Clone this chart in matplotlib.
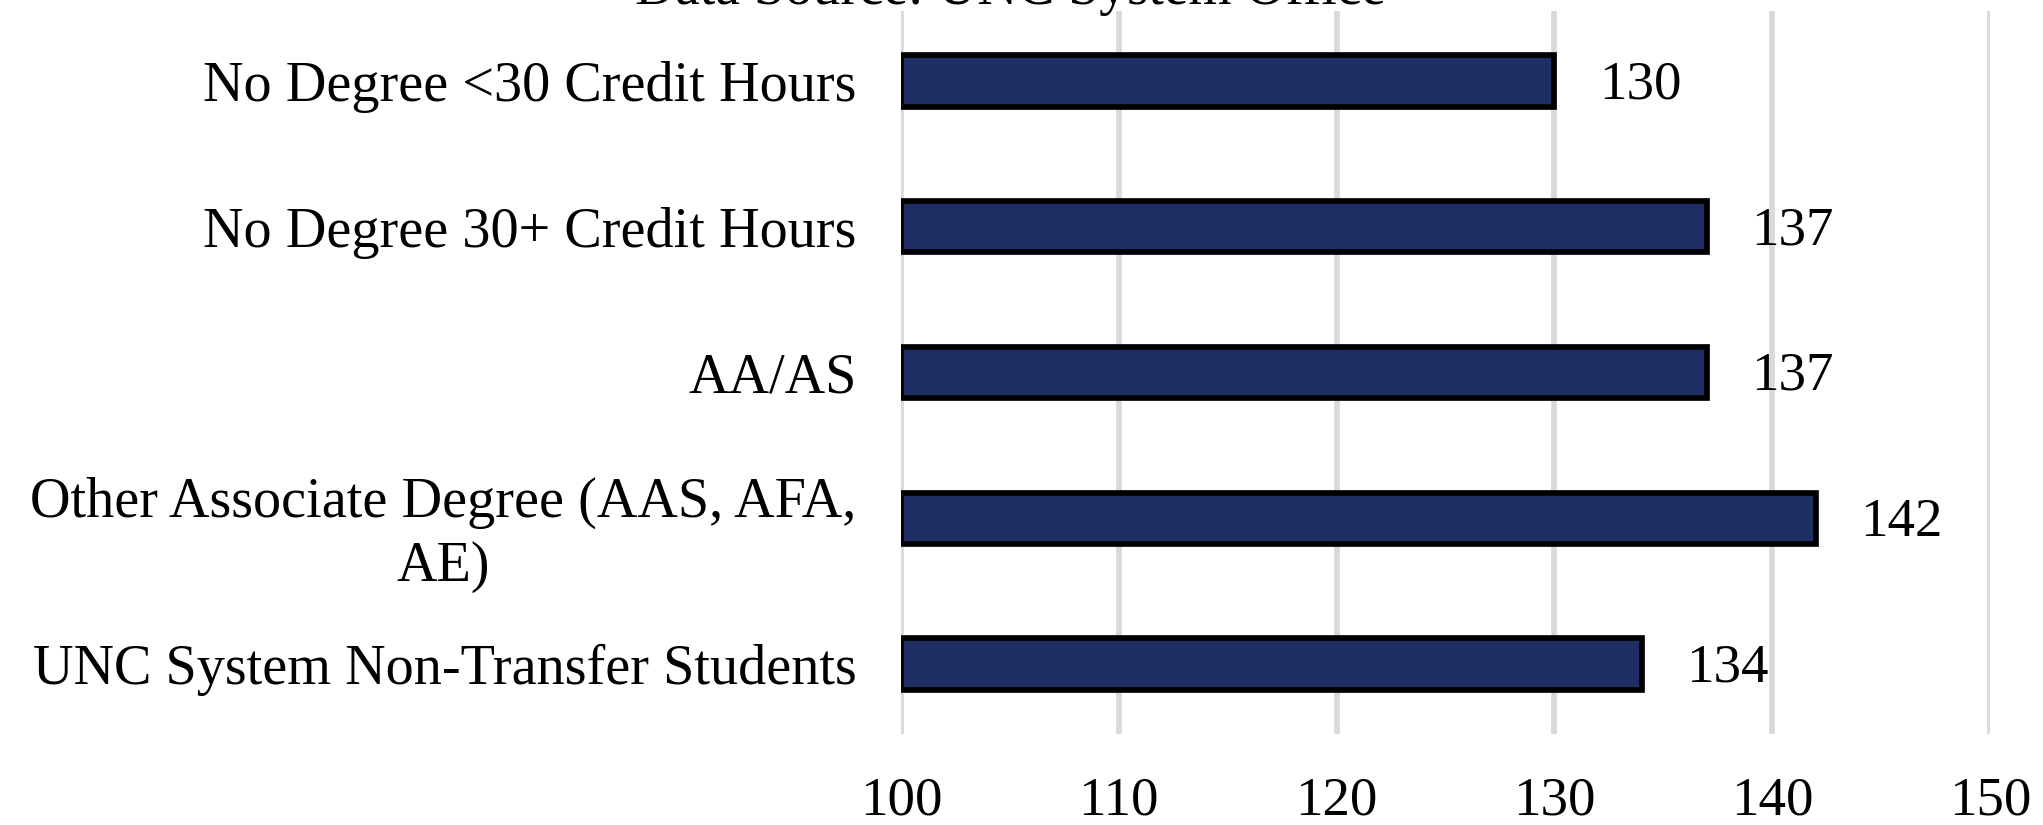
import matplotlib
matplotlib.use("Agg")
import matplotlib.pyplot as plt
from matplotlib.transforms import ScaledTranslation

plt.rcParams['font.family'] = ['Liberation Serif', 'DejaVu Serif']

categories = [
    "No Degree <30 Credit Hours",
    "No Degree 30+ Credit Hours",
    "AA/AS",
    "Other Associate Degree (AAS, AFA,\nAE)",
    "UNC System Non-Transfer Students",
]
values = [130, 137, 137, 142, 134]
x_ticks = [100, 110, 120, 130, 140, 150]
title = "Data Source: UNC System Office"

W, H = 2043, 825
fig = plt.figure(figsize=(W / 100, H / 100), dpi=100)
# axes box in pixels: x 901..1990, y 11..734 (from top)
ax = fig.add_axes([901 / W, 1 - 734 / H, (1990 - 901) / W, (734 - 11) / H])

pos = list(range(len(categories)))
ax.barh(pos, [v - 100 for v in values], left=100, height=0.352,
        color="#1F2F63", edgecolor="black", linewidth=4.1, zorder=3)

for p, v in zip(pos, values):
    ax.annotate(str(v), xy=(v, p), xytext=(32, -3), textcoords="offset points",
                ha="left", va="center", fontsize=39.5, color="black")

ax.set_xlim(100, 150)
ax.set_ylim(4.48, -0.48)
ax.set_xticks(x_ticks)
ax.set_xticklabels([str(t) for t in x_ticks], fontsize=39.5)
ax.set_yticks(pos)
ax.set_yticklabels(categories, fontsize=40.5, multialignment="center",
                   linespacing=1.3)
ax.tick_params(axis="x", length=0, pad=30)
ax.tick_params(axis="y", length=0, pad=32)
ax.grid(axis="x", color="#D9D9D9", linewidth=4.1, zorder=0)
for s in ax.spines.values():
    s.set_visible(False)

# the wrapped label sits a little lower than its bar
lab = ax.get_yticklabels()[3]
lab.set_transform(lab.get_transform() + ScaledTranslation(0, -3 / 72, fig.dpi_scale_trans))

fig.text(1010 / W, 1 - 4 / H, title, ha="center", va="baseline", fontsize=40)

fig.savefig("out.png", dpi=100, facecolor="white")
